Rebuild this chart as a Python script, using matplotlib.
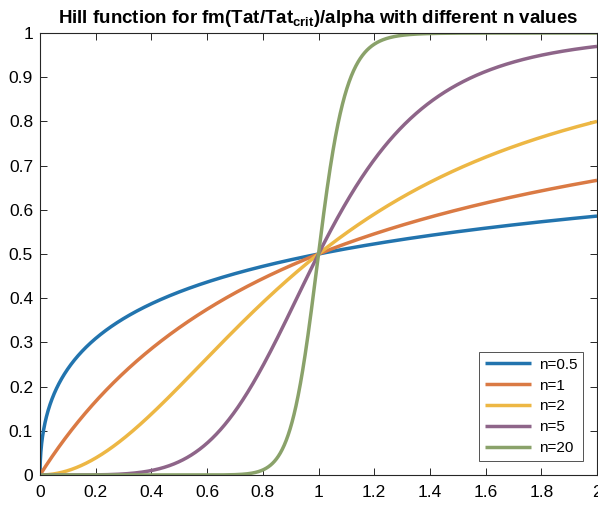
import numpy as np
import matplotlib
matplotlib.use("Agg")
import matplotlib.pyplot as plt

plt.rcParams['font.family'] = ['Liberation Sans', 'DejaVu Sans']
plt.rcParams['mathtext.fontset'] = 'custom'
plt.rcParams['mathtext.rm'] = 'Liberation Sans'
plt.rcParams['mathtext.bf'] = 'Liberation Sans:bold'

# Hill exponents and colours for each curve
n_values = [0.5, 1, 2, 5, 20]
labels = ['n=0.5', 'n=1', 'n=2', 'n=5', 'n=20']
colors = ['#2274AE', '#DA7A44', '#EDB744', '#8E6589', '#8AA26A']

x = np.linspace(0, 2, 2001)

fig = plt.figure(figsize=(5.98, 5.09), dpi=100)
ax = fig.add_axes([40/598, 34/509, 557/598, 442/509])

for n, lab, c in zip(n_values, labels, colors):
    y = x**n / (1 + x**n)
    ax.plot(x, y, color=c, lw=2.5, label=lab, solid_capstyle='butt')

ax.set_xlim(0, 2)
ax.set_ylim(0, 1)
ax.set_xticks(np.arange(0, 2.01, 0.2))
ax.set_xticklabels(['0', '0.2', '0.4', '0.6', '0.8', '1', '1.2', '1.4', '1.6', '1.8', '2'])
ax.set_yticks(np.arange(0, 1.01, 0.1))
ax.set_yticklabels(['0', '0.1', '0.2', '0.3', '0.4', '0.5', '0.6', '0.7', '0.8', '0.9', '1'])
ax.tick_params(direction='in', length=5, width=0.7, color='#262626',
               labelsize=12.5, top=True, right=True)
ax.tick_params(axis='x', pad=7)
ax.tick_params(axis='y', pad=5)
for s in ax.spines.values():
    s.set_color('#262626')
    s.set_linewidth(0.8)

ax.set_title(r'Hill function for fm(Tat/Tat$_{\mathbf{crit}}$)/alpha with different n values',
             fontsize=13.5, fontweight='bold', pad=7)

leg = ax.legend(loc='lower right', fontsize=11, frameon=True, fancybox=False,
                edgecolor='#262626', handlelength=3.0, borderaxespad=0.9,
                labelspacing=0.45, handletextpad=0.5)
leg.get_frame().set_linewidth(0.7)

fig.savefig('out.png', dpi=100)
